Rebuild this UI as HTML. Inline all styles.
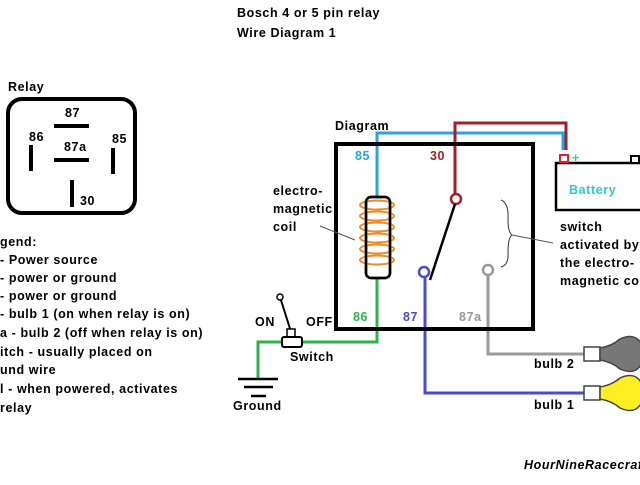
<!DOCTYPE html>
<html><head><style>
body{margin:0;background:#fff}
svg text{font-family:"Liberation Sans",sans-serif;font-weight:bold;font-size:12.5px;letter-spacing:0.6px}
</style></head><body>
<svg width="640" height="480" viewBox="0 0 640 480" xmlns="http://www.w3.org/2000/svg">
<rect width="640" height="480" fill="#fff"/>
<text x="237" y="17" font-size="13">Bosch 4 or 5 pin relay</text>
<text x="237" y="37" font-size="13">Wire Diagram 1</text>
<!-- left relay -->
<text x="8" y="91">Relay</text>
<rect x="8" y="99" width="127" height="114" rx="14" fill="none" stroke="#000" stroke-width="4"/>
<text x="65" y="117">87</text>
<line x1="54" y1="126" x2="89" y2="126" stroke="#000" stroke-width="4"/>
<text x="29" y="141">86</text>
<text x="64" y="151">87a</text>
<text x="112" y="143">85</text>
<line x1="54" y1="160" x2="89" y2="160" stroke="#000" stroke-width="4"/>
<line x1="31" y1="145" x2="31" y2="171" stroke="#000" stroke-width="4"/>
<line x1="113" y1="148" x2="113" y2="174" stroke="#000" stroke-width="4"/>
<line x1="72" y1="180" x2="72" y2="207" stroke="#000" stroke-width="4"/>
<text x="80" y="205">30</text>
<!-- legend -->
<g font-size="13">
<text x="0" y="246">gend:</text>
<text x="0" y="264">- Power source</text>
<text x="0" y="282">- power or ground</text>
<text x="0" y="300">- power or ground</text>
<text x="0" y="318">- bulb 1 (on when relay is on)</text>
<text x="0" y="337">a - bulb 2 (off when relay is on)</text>
<text x="0" y="356">itch - usually placed on</text>
<text x="0" y="374">und wire</text>
<text x="0" y="393">l - when powered, activates</text>
<text x="0" y="412">relay</text>
</g>
<!-- wires -->
<polyline points="377,197 377,133 563,133 563,150" fill="none" stroke="#29a3e0" stroke-width="3"/>
<polyline points="455,195 455,123 566,123 566,150" fill="none" stroke="#a0202a" stroke-width="3"/>
<polyline points="377,278 377,342 258,342 258,379" fill="none" stroke="#2db34a" stroke-width="3"/>
<polyline points="425,277 425,393 584,393" fill="none" stroke="#4a4ad0" stroke-width="3"/>
<polyline points="488,275 488,354 584,354" fill="none" stroke="#999" stroke-width="3"/>
<!-- relay box -->
<text x="335" y="130">Diagram</text>
<rect x="336" y="144" width="197" height="185" fill="none" stroke="#000" stroke-width="4"/>
<text x="355" y="160" fill="#29a3e0" font-size="13">85</text>
<text x="430" y="160" fill="#a0202a" font-size="13">30</text>
<text x="353" y="321" fill="#2db34a" font-size="13">86</text>
<text x="403" y="321" fill="#4a4ad0" font-size="13">87</text>
<text x="459" y="321" fill="#999" font-size="13">87a</text>
<!-- coil -->
<rect x="366" y="197" width="24" height="81" rx="5" fill="#fff" stroke="#000" stroke-width="2.5"/>
<g fill="none" stroke="#f08a24" stroke-width="2">
<ellipse cx="377" cy="205" rx="17" ry="4.5"/>
<ellipse cx="377" cy="216" rx="17" ry="4.5"/>
<ellipse cx="377" cy="227" rx="17" ry="4.5"/>
<ellipse cx="377" cy="238" rx="17" ry="4.5"/>
<ellipse cx="377" cy="249" rx="17" ry="4.5"/>
<ellipse cx="377" cy="260" rx="17" ry="4.5"/>
</g>
<rect x="366" y="197" width="24" height="81" rx="5" fill="none" stroke="#000" stroke-width="2.5"/>
<text x="273" y="195">electro-</text>
<text x="273" y="213">magnetic</text>
<text x="273" y="231">coil</text>
<line x1="320" y1="226" x2="355" y2="240" stroke="#555" stroke-width="1"/>
<!-- switch contacts -->
<circle cx="456" cy="199" r="5" fill="#fff" stroke="#a0202a" stroke-width="2.5"/>
<line x1="455" y1="204" x2="430" y2="280" stroke="#000" stroke-width="2.5"/>
<circle cx="424" cy="272" r="5" fill="#fff" stroke="#4a4ad0" stroke-width="2.5"/>
<circle cx="488" cy="270" r="5" fill="#fff" stroke="#999" stroke-width="2.5"/>
<path d="M501,200 Q509,203 508,220 Q508,232 512,235 Q508,238 508,252 Q509,265 501,267" fill="none" stroke="#333" stroke-width="1"/>
<line x1="512" y1="235" x2="553" y2="243" stroke="#555" stroke-width="1"/>
<text x="560" y="231" font-size="13">switch</text>
<text x="560" y="249" font-size="13">activated by</text>
<text x="560" y="267" font-size="13">the electro-</text>
<text x="560" y="285" font-size="13">magnetic coil</text>
<!-- battery -->
<rect x="556" y="163" width="90" height="47" fill="#fff" stroke="#000" stroke-width="2.5"/>
<rect x="560" y="155" width="8" height="7" fill="#fff" stroke="#e02030" stroke-width="2"/>
<rect x="631" y="156" width="8" height="7" fill="#fff" stroke="#000" stroke-width="2"/>
<text x="572" y="162" fill="#30c8c8" font-size="18">+</text>
<text x="569" y="194" fill="#30c8c8" font-size="14">Battery</text>
<!-- toggle switch -->
<line x1="280" y1="297" x2="292" y2="335" stroke="#000" stroke-width="2"/>
<circle cx="280" cy="297" r="3" fill="#fff" stroke="#000" stroke-width="1.5"/>
<rect x="287" y="329" width="8" height="8" fill="#fff" stroke="#000" stroke-width="1.5"/>
<rect x="282" y="337" width="20" height="10" rx="2" fill="#fff" stroke="#000" stroke-width="2"/>
<text x="255" y="326">ON</text>
<text x="306" y="326">OFF</text>
<text x="290" y="361">Switch</text>
<line x1="238" y1="379" x2="278" y2="379" stroke="#000" stroke-width="2.5"/>
<line x1="244" y1="387" x2="273" y2="387" stroke="#000" stroke-width="2.5"/>
<line x1="251" y1="396" x2="266" y2="396" stroke="#000" stroke-width="2.5"/>
<text x="233" y="410">Ground</text>
<!-- bulbs -->
<rect x="584" y="347" width="16" height="14" fill="#fff" stroke="#444" stroke-width="1.5"/>
<path d="M600,348 Q612,346 620,339 Q640,330 645,354 Q640,378 620,369 Q612,362 600,360 Z" fill="#777" stroke="#444" stroke-width="1.5"/>
<rect x="584" y="386" width="16" height="14" fill="#fff" stroke="#444" stroke-width="1.5"/>
<path d="M600,387 Q612,385 620,378 Q640,369 645,393 Q640,417 620,408 Q612,401 600,399 Z" fill="#ffee22" stroke="#444" stroke-width="1.5"/>
<text x="534" y="368">bulb 2</text>
<text x="534" y="409">bulb 1</text>
<text x="524" y="469" font-style="italic" font-size="11">HourNineRacecraft</text>
</svg>
</body></html>
